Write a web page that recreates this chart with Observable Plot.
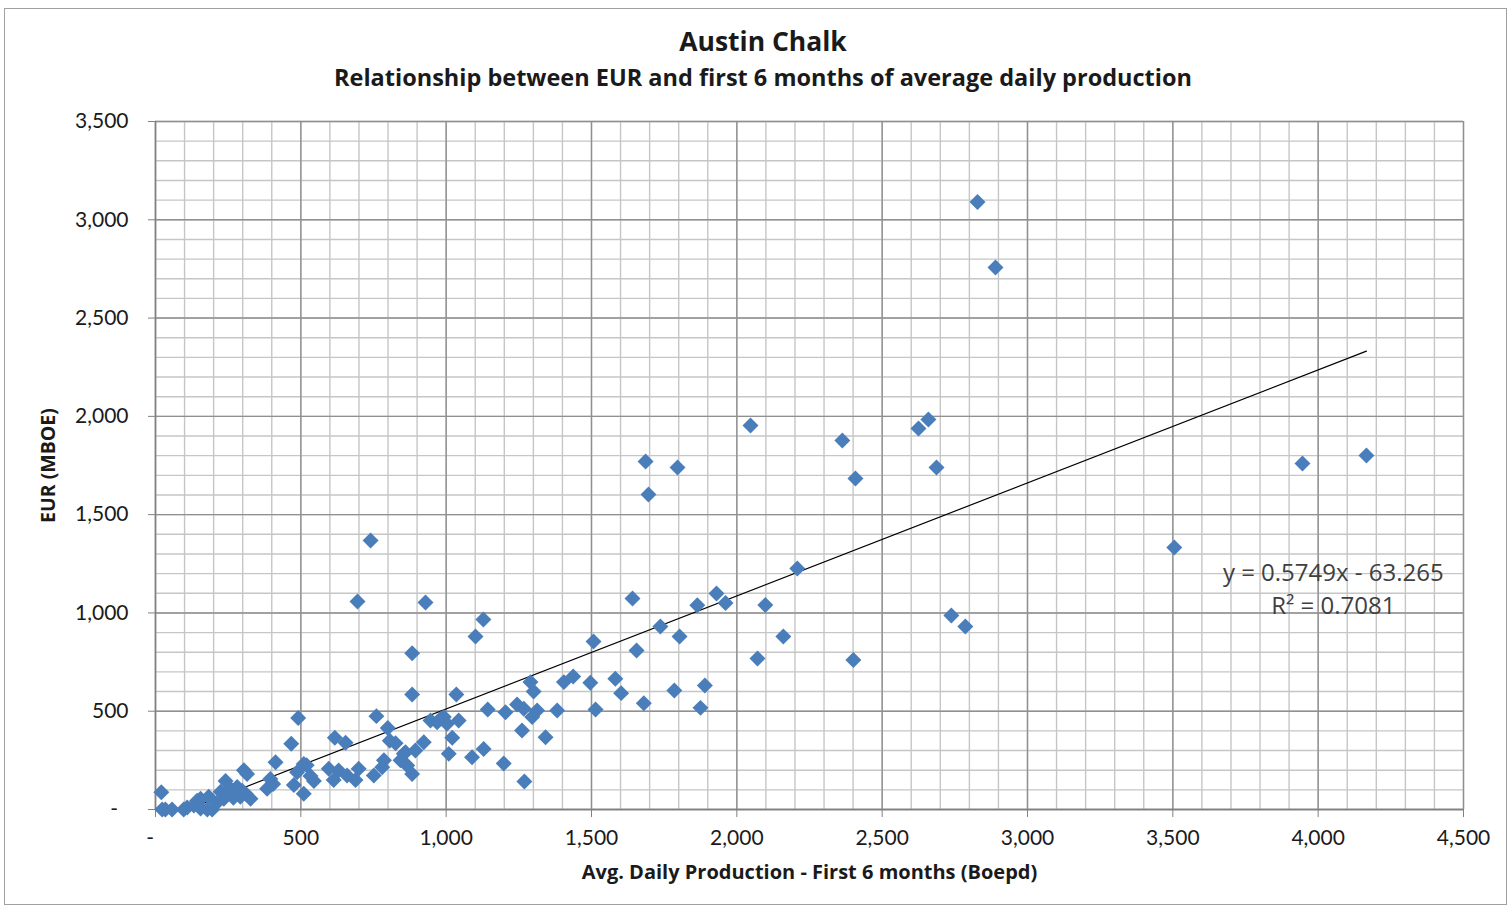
<!DOCTYPE html>
<html>
<head>
<meta charset="utf-8">
<script src="https://cdn.jsdelivr.net/npm/d3@7"></script>
<script src="https://cdn.jsdelivr.net/npm/@observablehq/plot@0.6"></script>
<style>
  html, body { margin: 0; padding: 0; background: #fff; }
  body { font-family: "Open Sans", Lato, sans-serif; color: #1a1a1a; width: 1509px; height: 908px; position: relative; overflow: hidden; }
  #frame { position: absolute; left: 4px; top: 8px; width: 1503px; height: 897px; border: 1px solid #a0a0a0; box-sizing: border-box; pointer-events: none; }
  #head { position: relative; width: 1509px; height: 100px; }
  #title { position: absolute; left: 0; width: 1526px; top: 28px; text-align: center; font-weight: bold; font-size: 26.5px; line-height: 1; }
  #subtitle { position: absolute; left: 0; width: 1526px; top: 65.5px; text-align: center; font-weight: bold; font-size: 23.5px; line-height: 1; }
  #chart svg { display: block; }
</style>
</head>
<body>
<div id="frame"></div>
<div id="head">
  <div id="title">Austin Chalk</div>
  <div id="subtitle">Relationship between EUR and first 6 months of average daily production</div>
</div>
<div id="chart"></div>
<script>
// ---- data ----
const production = [20, 23, 34, 57, 97, 109, 132, 143, 155, 155, 178, 183, 195, 212, 224, 235, 241, 258, 268, 275, 281, 292, 298, 304, 310, 315, 327, 384, 395, 405, 413, 467, 476, 487, 491, 510, 510, 520, 533, 545, 596, 613, 617, 630, 654, 659, 688, 695, 699, 740, 751, 760, 780, 786, 799, 806, 826, 843, 854, 860, 866, 883, 883, 883, 894, 923, 929, 946, 969, 980, 992, 1003, 1009, 1021, 1035, 1043, 1089, 1101, 1128, 1129, 1143, 1198, 1204, 1244, 1261, 1267, 1269, 1290, 1296, 1301, 1313, 1342, 1382, 1405, 1437, 1496, 1507, 1514, 1582, 1602, 1641, 1655, 1680, 1686, 1696, 1737, 1785, 1796, 1803, 1864, 1875, 1890, 1930, 1961, 2047, 2071, 2098, 2160, 2208, 2363, 2401, 2408, 2625, 2659, 2687, 2738, 2786, 2828, 2890, 3505, 3946, 4166];
const eur = [88, 0, 0, 0, 0, 10, 20, 45, 5, 55, 0, 65, 0, 35, 90, 55, 145, 105, 60, 80, 115, 65, 95, 200, 80, 180, 55, 105, 155, 130, 240, 335, 125, 190, 465, 80, 232, 225, 170, 145, 207, 150, 365, 198, 340, 173, 150, 1058, 207, 1368, 173, 475, 215, 250, 415, 350, 337, 250, 283, 291, 224, 181, 585, 795, 300, 342, 1053, 453, 444, 461, 470, 436, 283, 365, 585, 453, 266, 880, 967, 308, 509, 234, 495, 534, 402, 512, 143, 648, 470, 600, 504, 368, 504, 648, 677, 645, 855, 509, 665, 592, 1073, 809, 541, 1770, 1602, 931, 605, 1740, 880, 1039, 517, 631, 1099, 1051, 1953, 768, 1040, 880, 1226, 1877, 760, 1684, 1938, 1984, 1740, 987, 931, 3090, 2757, 1333, 1760, 1801];

const xTicks = [0, 500, 1000, 1500, 2000, 2500, 3000, 3500, 4000, 4500];
const yTicks = [0, 500, 1000, 1500, 2000, 2500, 3000, 3500];
const xMinor = d3.range(0, 4501, 100);
const yMinor = d3.range(0, 3501, 100);

const slope = 0.5749, intercept = -63.265;
const equationText = "y = 0.5749x - 63.265\nR\u00B2 = 0.7081";
const xTitle = "Avg. Daily Production - First 6 months (Boepd)";
const yTitle = "EUR (MBOE)";

// ---- derived tables ----
const points = production.map((p, i) => ({x: p, y: eur[i]}));
const xStart = Math.max(d3.min(production), -intercept / slope);
const xEnd = d3.max(production);
const trend = [xStart, xEnd].map(x => ({x, y: slope * x + intercept}));

const fmt = v => v === 0 ? "-\u2002" : d3.format(",")(v);

const chart = Plot.plot({
  width: 1509,
  height: 808,
  marginLeft: 155,
  marginRight: 46,
  marginTop: 21,
  marginBottom: 99,
  x: {domain: [0, 4500]},
  y: {domain: [0, 3500]},
  style: {fontFamily: "Lato, 'Open Sans', sans-serif", fontSize: "21px", color: "#1a1a1a", background: "transparent", overflow: "visible"},
  marks: [
    Plot.gridX({ticks: xMinor, stroke: "#c6c6c6", strokeOpacity: 1, strokeWidth: 1.4}),
    Plot.gridY({ticks: yMinor, stroke: "#c6c6c6", strokeOpacity: 1, strokeWidth: 1.4}),
    Plot.gridX({ticks: xTicks, stroke: "#909090", strokeOpacity: 1, strokeWidth: 1.4}),
    Plot.gridY({ticks: yTicks, stroke: "#909090", strokeOpacity: 1, strokeWidth: 1.4}),
    Plot.ruleX([0], {stroke: "#808080", strokeWidth: 1.4}),
    Plot.ruleY([0], {stroke: "#808080", strokeWidth: 1.4}),
    Plot.axisX({ticks: xTicks, tickSize: 8, tickPadding: 13, tickFormat: fmt, label: null, stroke: "#808080", fill: "#1a1a1a", fontSize: 21}),
    Plot.axisY({ticks: yTicks, tickSize: 7, tickPadding: 20, tickFormat: fmt, label: null, stroke: "#808080", fill: "#1a1a1a", fontSize: 21}),
    Plot.line(trend, {x: "x", y: "y", stroke: "#000", strokeWidth: 1.2}),
    Plot.dot(points, {x: "x", y: "y", symbol: "diamond2", r: 7.2, fill: "#4A7EBB", stroke: "none"}),
    Plot.text([equationText], {x: () => 4052, y: () => 1132, text: d => d, fontFamily: "'Open Sans', sans-serif", fontSize: 24, lineHeight: 1.38, fill: "#404040", textAnchor: "middle", lineAnchor: "middle"}),
    Plot.text([xTitle], {frameAnchor: "bottom", dy: 63, text: d => d, fontFamily: "'Open Sans', sans-serif", fontSize: 20, fontWeight: "bold", fill: "#1a1a1a", textAnchor: "middle", lineAnchor: "middle"}),
    Plot.text([yTitle], {frameAnchor: "left", dx: -107, rotate: -90, text: d => d, fontFamily: "'Open Sans', sans-serif", fontSize: 19.5, fontWeight: "bold", fill: "#1a1a1a", textAnchor: "middle", lineAnchor: "middle"})
  ]
});
document.getElementById("chart").appendChild(chart);
</script>
</body>
</html>
